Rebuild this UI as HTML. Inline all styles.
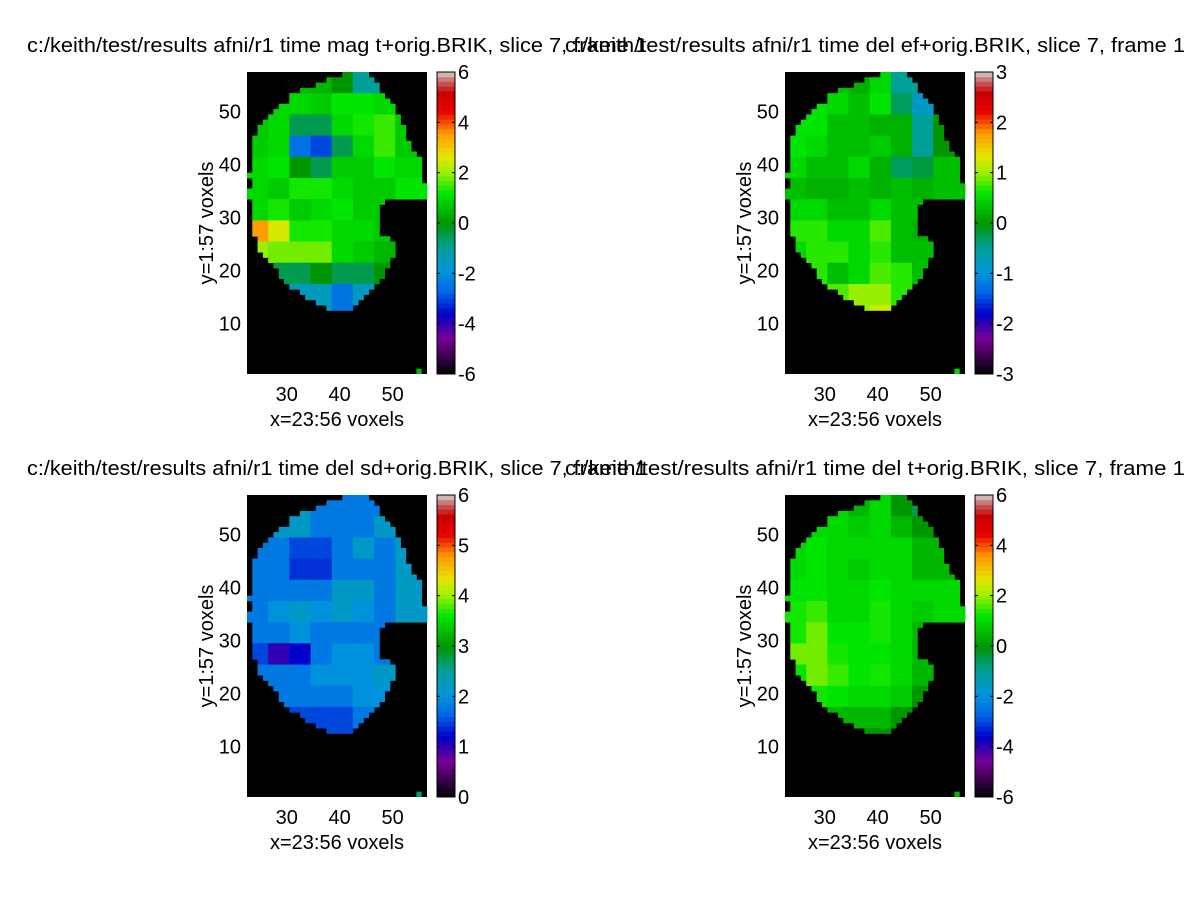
<!DOCTYPE html>
<html><head><meta charset="utf-8"><style>
body{margin:0;background:#fff;}
svg text{font-family:"Liberation Sans",sans-serif;font-size:20px;fill:#000;}
</style></head><body>
<svg id="fig" width="1200" height="900"></svg>
<script>
// mask: rows y=57 down to 13
const rowYs=[57,56,55,54,53,52,51,50,49,48,47,46,45,44,43,42,41,40,39,38,37,36,35,34,33,32,31,30,29,28,27,26,25,24,23,22,21,20,19,18,17,16,15,14,13];
const rowLeft=[41,38,36,33,31,31,29,28,27,26,25,25,24,24,24,24,24,24,24,23,24,24,23,23,24,24,24,24,24,24,24,25,25,25,26,27,28,29,29,30,31,33,34,36,38];
const rowRight=[45,46,47,47,48,49,50,50,51,51,52,52,52,53,53,54,55,55,55,55,55,56,56,56,48,47,47,47,47,47,47,49,50,50,50,49,49,48,48,47,46,45,44,43,42];
// coarse value grids: y bands 54-57,50-53,...,10-13 ; x bands 23-26,27-30,31-34,35-38,39-42,43-46,47-50,51-56
const gridMag=[[0.5,0.5,0.5,0.5,0,-1,-1,0],[0.8,1,1,0.8,1.2,1.2,1,0.5],[0.8,1,-0.5,-0.5,1,1.3,1.5,0.8],[0.8,1,-2.5,-3,-0.5,1,1.5,0.8],[1,1.2,0,-0.5,0.8,0.8,1.2,1],[1,0.8,1.3,1.3,1,0.8,0.8,1.2],[1,1.3,0.8,1,1.2,0.8,0.8,0.8],[3.5,2.5,1.3,1.3,1,1,0.8,0.8],[2,1.8,1.8,1.8,1,0.8,0.5,0.5],[0,-0.5,-0.5,0,-0.5,-0.5,0,0.5],[-1.5,-1.5,-1.5,-1.5,-2.5,-1.5,-0.5,0],[-1.5,-1.5,-1.5,-1.5,-2.5,-2.5,0,0]];
const gridEf=[[0.3,0.3,0.3,0.2,0.5,-0.5,-0.5,0],[0.3,0.6,0.5,0.3,0.6,-0.3,-0.8,0],[0.6,0.6,0.3,0.3,0.2,0.2,-0.5,0],[0.6,0.5,0.3,0.3,0.4,0.2,-0.5,0],[0.5,0.3,0.3,0.5,0.2,-0.3,-0.2,0.3],[0.3,0.2,0.2,0.3,0.2,0.3,0.2,0.3],[0.5,0.5,0.3,0.3,0.5,0.3,0.3,0],[0.7,0.7,0.5,0.5,0.8,0.3,0.2,0],[0.5,0.7,0.7,0.5,0.7,0.3,0.3,0],[0.7,0.7,0.3,0.5,0.8,0.7,0.3,0],[0.7,1,0.8,1,1,0.7,0.3,0],[0.7,1,1,1,1.2,0.7,0.3,0]];
const gridSd=[[2.2,2.2,2.2,1.8,1.8,1.8,1.8,2.2],[2.2,2.2,2.2,1.8,1.8,1.8,2.2,2.2],[1.8,1.8,1.5,1.5,1.8,2.2,1.8,2.2],[1.8,1.8,1.4,1.4,1.8,1.8,1.8,2.2],[1.8,1.8,1.8,1.8,2.2,2.2,1.8,2.2],[1.8,2,2.2,2,2.2,2,1.8,2.2],[1.8,1.8,2,1.8,1.8,1.8,1.8,2.2],[1.5,1,1.2,1.8,2,2,1.8,2.2],[1.8,1.8,1.8,2,2,2,2.2,2.2],[1.8,1.8,1.8,1.8,1.8,2,2,2.2],[1.8,1.8,1.5,1.5,1.5,1.8,1.8,2.2],[1.8,1.8,1.5,1.5,1.5,1.8,1.8,2.2]];
const gridDelT=[[1,1,1,0.5,1,0,-0.5,0.5],[1,1,1,0.8,1,0.5,0,0.5],[1,1.2,1,1,1,1,0.5,0.5],[1,1.2,1,0.8,1,1,0.5,0.5],[1.2,1.2,1,1,1.2,1,1,1],[1.3,1.5,1,1,1.3,1,0.8,1],[1.3,1.8,1.2,1.2,1.3,1,0.5,0.5],[1.8,1.8,1.3,1.2,1.2,1,0.5,0.5],[1.2,1.8,1.5,1.2,1.3,1,0.5,0.5],[1,1.3,1.2,1,1,0.8,0,0.5],[0,0.5,0.5,0.5,0.5,0,-0.5,0],[-0.5,-0.5,0,0,0,-0.5,0,0]];
const panels=[
 {name:'mag-t',title:'c:/keith/test/results afni/r1 time mag t+orig.BRIK, slice 7, frame 1',ax:247,ay:72,grid:gridMag,vmin:-6,vmax:6,cTicks:[-6,-4,-2,0,2,4,6]},
 {name:'del-ef',title:'c:/keith/test/results afni/r1 time del ef+orig.BRIK, slice 7, frame 1',ax:785,ay:72,grid:gridEf,vmin:-3,vmax:3,cTicks:[-3,-2,-1,0,1,2,3]},
 {name:'del-sd',title:'c:/keith/test/results afni/r1 time del sd+orig.BRIK, slice 7, frame 1',ax:247,ay:495,grid:gridSd,vmin:0,vmax:6,cTicks:[0,1,2,3,4,5,6]},
 {name:'del-t',title:'c:/keith/test/results afni/r1 time del t+orig.BRIK, slice 7, frame 1',ax:785,ay:495,grid:gridDelT,vmin:-6,vmax:6,cTicks:[-6,-4,-2,0,2,4,6]}
];
const xTicks=[30,40,50], yTicks=[10,20,30,40,50];
const stops=[[0,0,0,0],[0.06,60,0,80],[0.12,120,0,150],[0.2,0,0,200],[0.27,0,100,230],[0.34,0,150,220],[0.42,0,160,150],[0.5,0,150,0],[0.6,0,230,0],[0.67,160,240,0],[0.72,230,230,0],[0.8,255,150,0],[0.87,230,0,0],[0.93,200,0,0],[0.97,200,100,100],[1,210,210,210]];
function cmap(t){t=Math.max(0,Math.min(1,t));for(let i=1;i<stops.length;i++){if(t<=stops[i][0]){const a=stops[i-1],b=stops[i],f=(t-a[0])/(b[0]-a[0]);return `rgb(${Math.round(a[1]+f*(b[1]-a[1]))},${Math.round(a[2]+f*(b[2]-a[2]))},${Math.round(a[3]+f*(b[3]-a[3]))})`;}}return 'rgb(210,210,210)';}
const NS='http://www.w3.org/2000/svg';const svg=document.getElementById('fig');
function mk(t,at,parent){const e=document.createElementNS(NS,t);for(const k in at)e.setAttribute(k,at[k]);(parent||svg).appendChild(e);return e;}
const W=180,H=302,sx=W/34,sy=H/57;
function xband(x){const b=[26,30,34,38,42,46,50,56];for(let i=0;i<b.length;i++)if(x<=b[i])return i;return 7;}
panels.forEach(p=>{
 const g=mk('g',{});
 
 
 const X=v=>p.ax+(v-22.5)*sx, Y=v=>p.ay+(57.5-v)*sy;
 const bg=mk('rect',{x:p.ax,y:p.ay,width:W,height:H,fill:'#000'},g);
 
 
 const norm=v=>(v-p.vmin)/(p.vmax-p.vmin);
 rowYs.forEach((yv,ri)=>{
  const band=Math.min(11,Math.floor((57-yv)/4));
  for(let xv=rowLeft[ri];xv<=rowRight[ri];xv++){
   const val=p.grid[band][xband(xv)];
   const r=mk('rect',{x:X(xv-0.5),y:Y(yv+0.5),width:sx+0.4,height:sy+0.4,fill:cmap(norm(val))},g);
   
   
  }
 });
 const dot=mk('rect',{x:X(54.5),y:Y(1.5),width:sx,height:sy,fill:cmap(norm(p.grid[11][7]+0.5))},g);
 
 
 const t=mk('text',{x:p.ax+W/2,y:p.ay-20,'text-anchor':'middle',textLength:620,lengthAdjust:'spacingAndGlyphs'},g);t.textContent=p.title;
 
 
 xTicks.forEach(v=>{const e=mk('text',{x:X(v),y:p.ay+H+27,'text-anchor':'middle'},g);e.textContent=v;
  
  });
 yTicks.forEach(v=>{const e=mk('text',{x:p.ax-6,y:Y(v)+7,'text-anchor':'end'},g);e.textContent=v;
  
  });
 const xl=mk('text',{x:p.ax+W/2,y:p.ay+H+52,'text-anchor':'middle'},g);xl.textContent='x=23:56 voxels';
 
 
 const yl=mk('text',{x:0,y:0,'text-anchor':'middle',transform:`translate(${p.ax-34},${p.ay+H/2}) rotate(-90)`},g);yl.textContent='y=1:57 voxels';
 
 
 const cx=p.ax+W+10,cw=18,n=64;
 for(let i=0;i<n;i++){const r=mk('rect',{x:cx,y:p.ay+H-(i+1)*H/n,width:cw,height:H/n+0.5,fill:cmap((i+0.5)/n)},g);
  
  }
 const cb=mk('rect',{x:cx,y:p.ay,width:cw,height:H,fill:'none',stroke:'#000','stroke-width':1},g);
 
 
 p.cTicks.forEach(v=>{const yy=p.ay+H-norm(v)*H;
  mk('line',{x1:cx,x2:cx+3,y1:yy,y2:yy,stroke:'#000'},g);mk('line',{x1:cx+cw-3,x2:cx+cw,y1:yy,y2:yy,stroke:'#000'},g);
  const e=mk('text',{x:cx+cw+3,y:yy+7},g);e.textContent=v;
  
  });
});
</script>
</body></html>
